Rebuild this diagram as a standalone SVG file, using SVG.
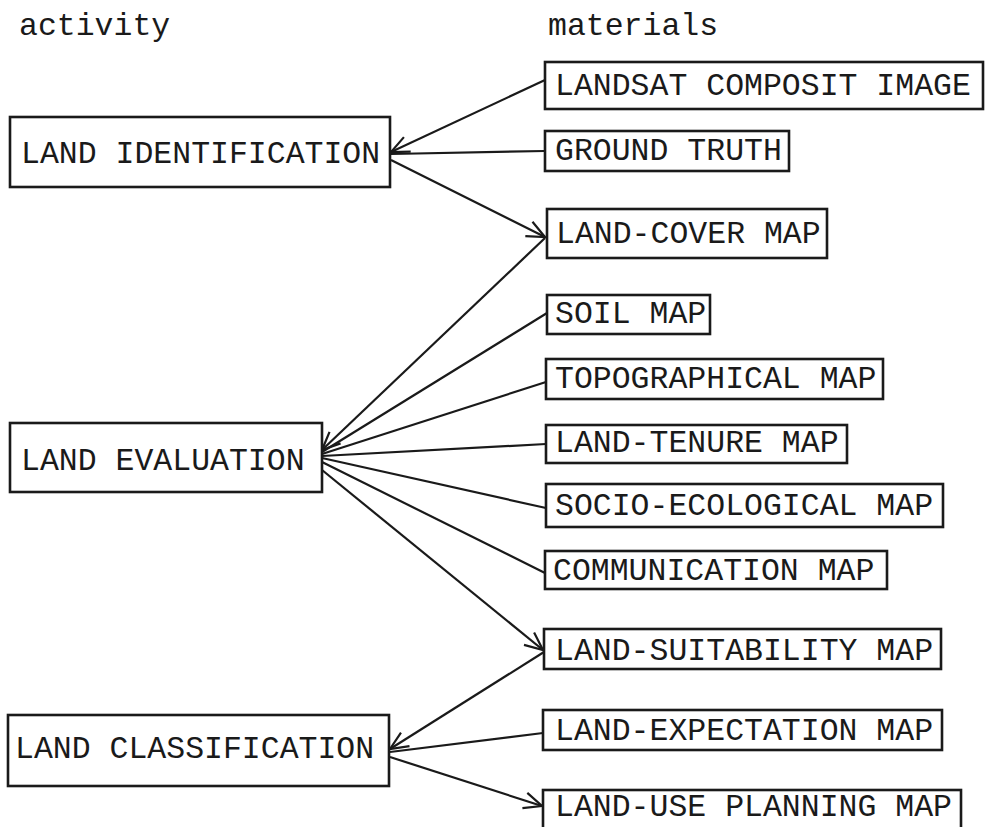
<svg xmlns="http://www.w3.org/2000/svg" width="985" height="827" viewBox="0 0 985 827">
<style>
text{font-family:"Liberation Mono","Courier New",monospace;font-size:31.5px;fill:#1a1a1a}
.box{fill:#fff;stroke:#1a1a1a;stroke-width:2.6}
.con{stroke:#1a1a1a;stroke-width:2.2;fill:none}
</style>
<defs>
<marker id="arr" markerUnits="userSpaceOnUse" markerWidth="24" markerHeight="24" refX="20" refY="10" orient="auto" viewBox="0 0 24 20">
<path d="M2,2 L20,10 L2,18" fill="none" stroke="#1a1a1a" stroke-width="2.2"/>
</marker>
</defs>
<rect width="985" height="827" fill="#fff"/>
<text x="19" y="35">activity</text>
<text x="548" y="35">materials</text>
<g id="connectors">
<line class="con" x1="545" y1="80" x2="391" y2="152" marker-end="url(#arr)"/>
<line class="con" x1="545" y1="151" x2="391" y2="154"/>
<line class="con" x1="391" y1="160" x2="545" y2="237" marker-end="url(#arr)"/>
<line class="con" x1="545" y1="238" x2="322" y2="450" marker-end="url(#arr)"/>
<line class="con" x1="547" y1="313" x2="322" y2="452"/>
<line class="con" x1="546" y1="382" x2="322" y2="454"/>
<line class="con" x1="546" y1="444" x2="322" y2="456"/>
<line class="con" x1="546" y1="508" x2="322" y2="458"/>
<line class="con" x1="545" y1="573" x2="322" y2="462"/>
<line class="con" x1="322" y1="470" x2="543" y2="650" marker-end="url(#arr)"/>
<line class="con" x1="544" y1="652" x2="390" y2="749" marker-end="url(#arr)"/>
<line class="con" x1="543" y1="733" x2="390" y2="752"/>
<line class="con" x1="390" y1="757" x2="542" y2="806" marker-end="url(#arr)"/>
</g>
<g id="land-identification"><rect class="box" x="10" y="117" width="380" height="70"/><text x="21" y="163">LAND IDENTIFICATION</text></g>
<g id="land-evaluation"><rect class="box" x="10" y="423" width="312" height="69"/><text x="21" y="470">LAND EVALUATION</text></g>
<g id="land-classification"><rect class="box" x="8" y="715" width="381" height="71"/><text x="15" y="758">LAND CLASSIFICATION</text></g>
<g id="landsat"><rect class="box" x="545" y="62" width="438" height="47"/><text x="555" y="95">LANDSAT COMPOSIT IMAGE</text></g>
<g id="ground-truth"><rect class="box" x="545" y="131" width="244" height="40"/><text x="555" y="160">GROUND TRUTH</text></g>
<g id="land-cover"><rect class="box" x="547" y="209" width="280" height="49"/><text x="556" y="243">LAND-COVER MAP</text></g>
<g id="soil"><rect class="box" x="547" y="295" width="163" height="39"/><text x="555" y="323">SOIL MAP</text></g>
<g id="topographical"><rect class="box" x="546" y="359" width="337" height="40"/><text x="555" y="388">TOPOGRAPHICAL MAP</text></g>
<g id="land-tenure"><rect class="box" x="546" y="425" width="301" height="38"/><text x="555" y="452">LAND-TENURE MAP</text></g>
<g id="socio-ecological"><rect class="box" x="546" y="484" width="397" height="43"/><text x="555" y="515">SOCIO-ECOLOGICAL MAP</text></g>
<g id="communication"><rect class="box" x="545" y="551" width="342" height="38"/><text x="553" y="580">COMMUNICATION MAP</text></g>
<g id="land-suitability"><rect class="box" x="544" y="629" width="397" height="40"/><text x="555" y="660">LAND-SUITABILITY MAP</text></g>
<g id="land-expectation"><rect class="box" x="543" y="710" width="399" height="40"/><text x="555" y="740">LAND-EXPECTATION MAP</text></g>
<g id="land-use-planning"><rect class="box" x="543" y="790" width="418" height="45"/><text x="555" y="816">LAND-USE PLANNING MAP</text></g>
</svg>
